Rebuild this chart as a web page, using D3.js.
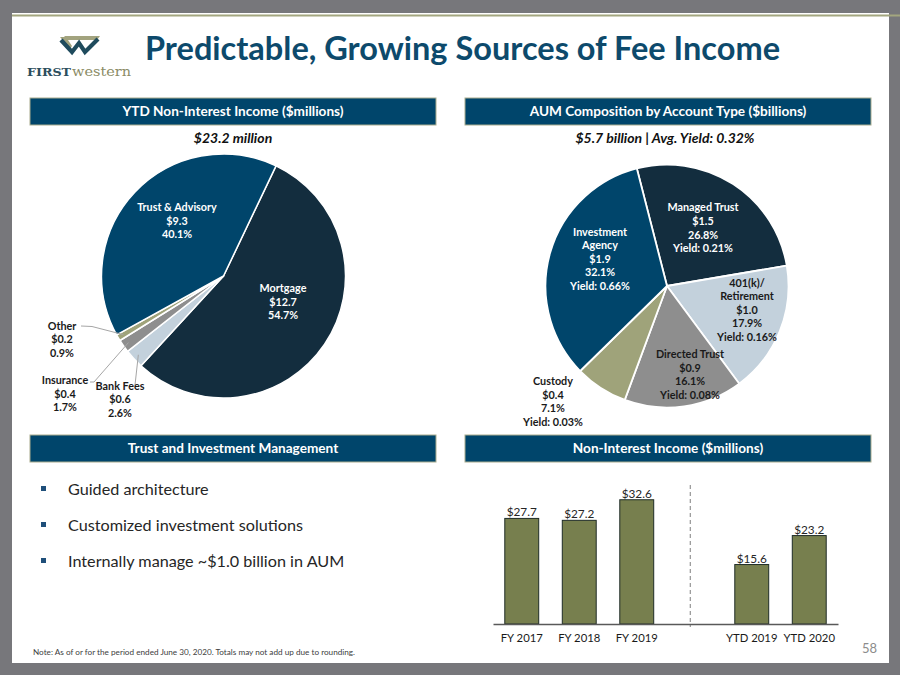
<!DOCTYPE html>
<html><head><meta charset="utf-8">
<script src="https://cdn.jsdelivr.net/npm/d3@7"></script>
<style>body{margin:0;background:#fff}svg{display:block}</style>
</head><body>
<svg id="c" width="900" height="675" font-family="Lato, 'Open Sans', sans-serif"></svg>
<script>
// ---------------- DATA ----------------
const titleText = "Predictable, Growing Sources of Fee Income";
const incomeCats = ["Mortgage", "Bank Fees", "Insurance", "Other", "Trust & Advisory"];
const incomeVals = [12.7, 0.6, 0.4, 0.2, 9.3];          // $ millions
const incomePcts = ["54.7%", "2.6%", "1.7%", "0.9%", "40.1%"];
const incomeTotal = "$23.2 million";

const aumCats = ["Managed Trust", "401(k)/ Retirement", "Directed Trust", "Custody", "Investment Agency"];
const aumVals = [1.5, 1.0, 0.9, 0.4, 1.9];              // $ billions
const aumPcts = ["26.8%", "17.9%", "16.1%", "7.1%", "32.1%"];
const aumYields = ["0.21%", "0.16%", "0.08%", "0.03%", "0.66%"];
const aumTotal = "$5.7 billion | Avg. Yield: 0.32%";

const barCats = ["FY 2017", "FY 2018", "FY 2019", "YTD 2019", "YTD 2020"];
const barVals = [27.7, 27.2, 32.6, 15.6, 23.2];          // $ millions

const bullets = ["Guided architecture", "Customized investment solutions", "Internally manage ~$1.0 billion in AUM"];
const headers = ["YTD Non-Interest Income ($millions)", "AUM Composition by Account Type ($billions)",
                 "Trust and Investment Management", "Non-Interest Income ($millions)"];
const noteText = "Note: As of or for the period ended June 30, 2020.  Totals may not add up due to rounding.";
const pageNum = "58";

// ---------------- STYLE / LAYOUT ----------------
const C = {
  frame: "#77777b", olive: "#a3a67f", navy: "#00456b", dark: "#132d3e",
  light: "#c3d1dc", gray: "#8e8e8e", khaki: "#9fa37a", title: "#0d4a6c",
  bar: "#777f4e", barStroke: "#1f2c27", text: "#1a1a1a"
};
const incomeColors = [C.dark, C.light, C.gray, C.khaki, C.navy];
const incomeTextColors = ["#fff", C.text, C.text, C.text, "#fff"];
const aumColors = [C.dark, C.light, C.gray, C.khaki, C.navy];
const aumTextColors = ["#fff", C.text, C.text, C.text, "#fff"];

const svg = d3.select("#c");
const deg = Math.PI / 180;

// frame
svg.append("rect").attr("width", 900).attr("height", 675).attr("fill", C.frame);
svg.append("rect").attr("x", 12).attr("y", 13).attr("width", 877).attr("height", 650).attr("fill", "#fff");
svg.append("rect").attr("x", 12).attr("y", 14.5).attr("width", 888).attr("height", 2).attr("fill", C.olive);

// logo
const logo = svg.append("g");
logo.append("path").attr("d", "M64,36 L100,36 L97,40 L68,40 Z M60,37 L66,37 L72,46 L70,49 Z").attr("fill", "#a2a37e");
logo.append("path").attr("d", "M61,40 L72,52 L79,43 L85,52 L98,39").attr("fill", "none")
  .attr("stroke", "#1f4b5d").attr("stroke-width", 4.2).attr("stroke-linejoin", "miter");
logo.append("text").attr("x", 27).attr("y", 76).attr("font-family", "DejaVu Serif").attr("font-weight", "bold")
  .attr("font-size", 10.5).attr("fill", "#2d4e5e").attr("textLength", 44).attr("lengthAdjust", "spacingAndGlyphs").text("FIRST");
logo.append("text").attr("x", 72).attr("y", 76).attr("font-family", "DejaVu Serif")
  .attr("font-size", 13).attr("fill", "#8b8c66").attr("textLength", 59).attr("lengthAdjust", "spacingAndGlyphs").text("western");

// title
svg.append("text").attr("x", 145).attr("y", 59.5).attr("font-size", 33).attr("font-weight", "bold")
  .attr("fill", C.title).attr("textLength", 635).attr("lengthAdjust", "spacingAndGlyphs").text(titleText);

// section headers
const hdrBoxes = [[30, 98, 406, 27], [465, 98, 406, 27], [30, 435, 406, 27], [465, 435, 406, 27]];
hdrBoxes.forEach((b, i) => {
  svg.append("rect").attr("x", b[0]).attr("y", b[1]).attr("width", b[2]).attr("height", b[3])
    .attr("fill", C.navy).attr("stroke", "#a9ac8e").attr("stroke-width", 1);
  svg.append("text").attr("x", b[0] + b[2] / 2).attr("y", b[1] + b[3] / 2 + 4.8).attr("text-anchor", "middle")
    .attr("font-size", 13.6).attr("font-weight", "bold").attr("fill", "#fff").text(headers[i]);
});

// subtitles
svg.append("text").attr("x", 233).attr("y", 143).attr("text-anchor", "middle").attr("font-size", 14)
  .attr("font-weight", "bold").attr("font-style", "italic").attr("fill", "#111").text(incomeTotal);
svg.append("text").attr("x", 665).attr("y", 143).attr("text-anchor", "middle").attr("font-size", 14)
  .attr("font-weight", "bold").attr("font-style", "italic").attr("fill", "#111").text(aumTotal);

// helper for multi-line labels centered on (cx, cy)
function block(g, cx, cy, lines, fill) {
  const lh = 13.6, n = lines.length;
  lines.forEach((t, i) => {
    g.append("text").attr("x", cx).attr("y", cy + (i - (n - 1) / 2) * lh + 3.8).attr("text-anchor", "middle")
      .attr("font-size", 10.8).attr("font-weight", "bold").attr("fill", fill).text(t);
  });
}

// ---------------- LEFT PIE ----------------
const R = 122;
const lc = [223.5, 276];
const pieL = d3.pie().sort(null).value(d => d).startAngle(25.5 * deg).endAngle(25.5 * deg + 2 * Math.PI);
const arc = d3.arc().innerRadius(0).outerRadius(R);
const gL = svg.append("g").attr("transform", `translate(${lc[0]},${lc[1]})`);
const arcsL = pieL(incomeVals);
gL.selectAll("path").data(arcsL).join("path").attr("d", arc)
  .attr("fill", (d, i) => incomeColors[i]).attr("stroke", "#fff").attr("stroke-width", 1.5).attr("stroke-linejoin", "round");

// label positions (block centres, relative to pie centre)
const lOff = [[59.5, 26], [-103.5, 123.5], [-158.5, 118], [-161.5, 63.5], [-46.5, -55]];
// leader lines for small slices: [label-end point, elbow]
const leaders = { 1: [[-88.5, 109], [-88.5, 109]], 2: [[-133.5, 106], [-129.5, 106]], 3: [[-142.5, 50], [-131.5, 50.5]] };
Object.keys(leaders).forEach(k => {
  const a = arcsL[k];
  const mid = (a.startAngle + a.endAngle) / 2;
  const p = [116 * Math.sin(mid), -116 * Math.cos(mid)];
  const pts = [leaders[k][0], leaders[k][1], p];
  gL.append("path").attr("d", d3.line()(pts)).attr("fill", "none").attr("stroke", "#a6a6a6").attr("stroke-width", 1);
});
incomeCats.forEach((c, i) => {
  block(gL, lOff[i][0], lOff[i][1], [c, "$" + incomeVals[i].toFixed(1), incomePcts[i]], incomeTextColors[i]);
});

// ---------------- RIGHT PIE ----------------
const rc = [667, 286];
const pieR = d3.pie().sort(null).value(d => d).startAngle(-14.4 * deg).endAngle(-14.4 * deg + 2 * Math.PI);
const gR = svg.append("g").attr("transform", `translate(${rc[0]},${rc[1]})`);
gR.selectAll("path").data(pieR(aumVals)).join("path").attr("d", d3.arc().innerRadius(0).outerRadius(121.5))
  .attr("fill", (d, i) => aumColors[i]).attr("stroke", "#fff").attr("stroke-width", 1.8).attr("stroke-linejoin", "round");
const rOff = [[36, -58], [80, 24], [23, 88.5], [-114, 115.5], [-67, -27]];
const nameLines = [["Managed Trust"], ["401(k)/", "Retirement"], ["Directed Trust"], ["Custody"], ["Investment", "Agency"]];
aumCats.forEach((c, i) => {
  block(gR, rOff[i][0], rOff[i][1],
    nameLines[i].concat(["$" + aumVals[i].toFixed(1), aumPcts[i], "Yield: " + aumYields[i]]), aumTextColors[i]);
});

// ---------------- BULLETS ----------------
bullets.forEach((b, i) => {
  const y = 489 + i * 36;
  svg.append("rect").attr("x", 41).attr("y", y - 3).attr("width", 5).attr("height", 5).attr("fill", "#1f4f7a");
  svg.append("text").attr("x", 68).attr("y", y + 5.8).attr("font-size", 16.2).attr("fill", "#262626").text(b);
});

// ---------------- BAR CHART ----------------
const gapKey = "__gap__";
const xDomain = barCats.slice(0, 3).concat([gapKey], barCats.slice(3));
const x = d3.scaleBand().domain(xDomain).range([493, 838]).paddingInner(0.41).paddingOuter(0.205);
const y = d3.scaleLinear().domain([0, 35]).range([624, 624 - 133.4]);
const gB = svg.append("g");
gB.selectAll("rect.bar").data(barVals).join("rect").attr("class", "bar")
  .attr("x", (d, i) => x(barCats[i])).attr("width", x.bandwidth())
  .attr("y", d => y(d)).attr("height", d => y(0) - y(d))
  .attr("fill", C.bar).attr("stroke", C.barStroke).attr("stroke-width", 1);
gB.selectAll("text.val").data(barVals).join("text").attr("class", "val")
  .attr("x", (d, i) => x(barCats[i]) + x.bandwidth() / 2).attr("y", d => y(d) - 2)
  .attr("text-anchor", "middle").attr("font-size", 11.8).attr("fill", "#262626").text(d => "$" + d.toFixed(1));
// divider
const divX = x(gapKey) + x.bandwidth() / 2 - 4;
gB.append("line").attr("x1", divX).attr("x2", divX).attr("y1", y(0) - 139).attr("y2", y(0) + 3)
  .attr("stroke", "#7f7f7f").attr("stroke-width", 1).attr("stroke-dasharray", "4,3");
// axis
const ax = gB.append("g").attr("transform", `translate(0,${y(0)})`)
  .call(d3.axisBottom(x).tickSize(0).tickPadding(10).tickFormat(d => d === gapKey ? "" : d));
ax.attr("font-family", null);
ax.select(".domain").attr("stroke", "#595959").attr("stroke-width", 1.5);
ax.selectAll("text").attr("font-size", 11.3).attr("fill", "#1a1a1a");

// ---------------- FOOTER ----------------
svg.append("text").attr("x", 33).attr("y", 654.5).attr("font-size", 7.8).attr("fill", "#404040")
  .attr("textLength", 322).attr("lengthAdjust", "spacingAndGlyphs").text(noteText);
svg.append("text").attr("x", 862).attr("y", 653).attr("font-size", 13).attr("fill", "#8c8c8c").text(pageNum);
</script>
</body></html>
